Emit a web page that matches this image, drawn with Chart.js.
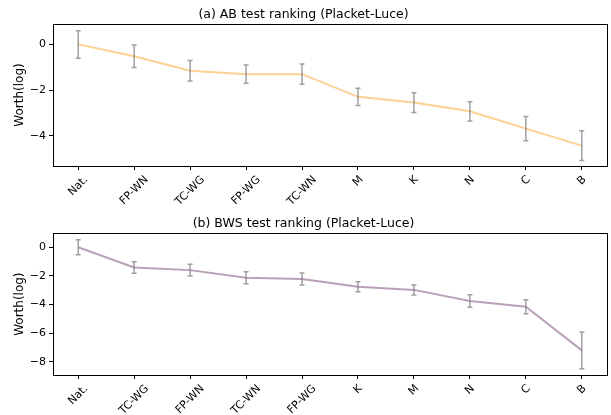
<!DOCTYPE html>
<html lang="en">
<head>
    <meta charset="UTF-8">
    <title>Placket-Luce ranking</title>
    <script src="https://cdn.jsdelivr.net/npm/chart.js"></script>
    <style>
        body { margin: 0; background: #fff; }
        .wrap { position: absolute; left: 0; width: 611px; }
        #abWrap { top: 0; height: 207px; }
        #bwsWrap { top: 207px; height: 208px; }
    </style>
</head>
<body>
    <div class="wrap" id="abWrap"><canvas id="abChart" width="611" height="207"></canvas></div>
    <div class="wrap" id="bwsWrap"><canvas id="bwsChart" width="611" height="208"></canvas></div>
    <script>
    // (a) AB test
    const abLabels = ['Nat.', 'FP-WN', 'TC-WG', 'FP-WG', 'TC-WN', 'M', 'K', 'N', 'C', 'B'];
    const abWorth = [0, -0.52, -1.15, -1.3, -1.3, -2.29, -2.54, -2.92, -3.68, -4.42];
    const abErr = [0.6, 0.49, 0.45, 0.4, 0.44, 0.38, 0.43, 0.42, 0.53, 0.65];

    // (b) BWS test
    const bwsLabels = ['Nat.', 'TC-WG', 'FP-WN', 'TC-WN', 'FP-WG', 'K', 'M', 'N', 'C', 'B'];
    const bwsWorth = [0, -1.41, -1.6, -2.13, -2.22, -2.76, -2.98, -3.76, -4.16, -7.2];
    const bwsErr = [0.52, 0.4, 0.41, 0.42, 0.42, 0.35, 0.35, 0.44, 0.49, 1.28];

    const yTicks = [0, -2, -4, -6, -8];
    const FONT = 'DejaVu Sans';

    // error bars + full frame + rotated category labels
    const extrasPlugin = {
        id: 'extras',
        afterDatasetsDraw: (chart) => {
            const ctx = chart.ctx;
            const xs = chart.scales.x, ys = chart.scales.y;
            const errs = chart.options.plugins.extras.err;
            const vals = chart.data.datasets[0].data;
            ctx.save();
            ctx.strokeStyle = 'rgba(128,128,128,0.75)';
            ctx.lineWidth = 1.5;
            vals.forEach((p, i) => {
                const x = xs.getPixelForValue(p.x);
                const y1 = ys.getPixelForValue(p.y + errs[i]);
                const y2 = ys.getPixelForValue(p.y - errs[i]);
                ctx.beginPath();
                ctx.moveTo(x, y1); ctx.lineTo(x, y2);
                ctx.moveTo(x - 2.5, y1); ctx.lineTo(x + 2.5, y1);
                ctx.moveTo(x - 2.5, y2); ctx.lineTo(x + 2.5, y2);
                ctx.stroke();
            });
            ctx.restore();
        },
        afterDraw: (chart) => {
            const ctx = chart.ctx;
            const a = chart.chartArea;
            ctx.save();
            ctx.strokeStyle = '#000';
            ctx.lineWidth = 1;
            ctx.strokeRect(Math.round(a.left) + 0.5, Math.round(a.top) + 0.5,
                Math.round(a.right - a.left), Math.round(a.bottom - a.top));

            // category labels, rotated 45deg, centred on the tick like matplotlib
            const labels = chart.options.plugins.extras.labels;
            const xs = chart.scales.x;
            ctx.font = '11px "' + FONT + '"';
            ctx.fillStyle = '#000';
            ctx.textAlign = 'center';
            ctx.textBaseline = 'middle';
            const top = a.bottom + 4 + 4;
            labels.forEach((lab, i) => {
                const w = ctx.measureText(lab).width;
                const h = 11;
                const side = (w + h) / Math.SQRT2;
                ctx.save();
                ctx.translate(xs.getPixelForValue(i), top + side / 2);
                ctx.rotate(-Math.PI / 4);
                ctx.fillText(lab, 0, 0);
                ctx.restore();
            });
            ctx.restore();
        }
    };

    function makeChart(id, title, labels, worth, err, color, yMin, yMax, titlePad, xHeight) {
        const ctx = document.getElementById(id).getContext('2d');
        return new Chart(ctx, {
            type: 'line',
            data: {
                datasets: [{
                    data: worth.map((v, i) => ({ x: i, y: v })),
                    borderColor: color,
                    borderWidth: 2,
                    pointRadius: 0,
                    tension: 0,
                    fill: false
                }]
            },
            options: {
                responsive: false,
                animation: false,
                layout: { padding: { left: 0, right: 4, top: 0, bottom: 0 } },
                plugins: {
                    legend: { display: false },
                    tooltip: { enabled: false },
                    title: {
                        display: true,
                        text: title,
                        color: '#000',
                        font: { family: FONT, size: 12.5, weight: 'normal' },
                        padding: titlePad
                    },
                    extras: { labels: labels, err: err }
                },
                scales: {
                    x: {
                        type: 'linear',
                        min: -0.45,
                        max: 9.45,
                        afterBuildTicks: (s) => { s.ticks = labels.map((l, i) => ({ value: i })); },
                        afterFit: (s) => { s.height = xHeight; },
                        ticks: { display: false },
                        grid: { drawOnChartArea: false, drawTicks: true, tickLength: 4, color: '#000' },
                        border: { display: false }
                    },
                    y: {
                        min: yMin,
                        max: yMax,
                        afterBuildTicks: (s) => { s.ticks = yTicks.filter(t => t >= yMin && t <= yMax).map(t => ({ value: t })); },
                        afterFit: (s) => { s.width = 53; },
                        ticks: {
                            color: '#000',
                            padding: 3,
                            font: { family: FONT, size: 11 },
                            callback: (v) => v < 0 ? '\u2212' + Math.abs(v) : String(v)
                        },
                        grid: { drawOnChartArea: false, drawTicks: true, tickLength: 4, color: '#000' },
                        border: { display: false },
                        title: {
                            display: true,
                            text: 'Worth(log)',
                            color: '#000',
                            font: { family: FONT, size: 12 },
                            padding: { top: 13, bottom: 0 }
                        }
                    }
                }
            },
            plugins: [extrasPlugin]
        });
    }

    makeChart('abChart', '(a) AB test ranking (Placket-Luce)', abLabels, abWorth, abErr,
        'rgba(252,196,120,0.8)', -5.31, 0.89, { top: 7.5, bottom: 1.5 }, 41);
    makeChart('bwsChart', '(b) BWS test ranking (Placket-Luce)', bwsLabels, bwsWorth, bwsErr,
        'rgba(160,130,160,0.75)', -8.92, 0.97, { top: 9.5, bottom: 1.8 }, 40);
    </script>
</body>
</html>
